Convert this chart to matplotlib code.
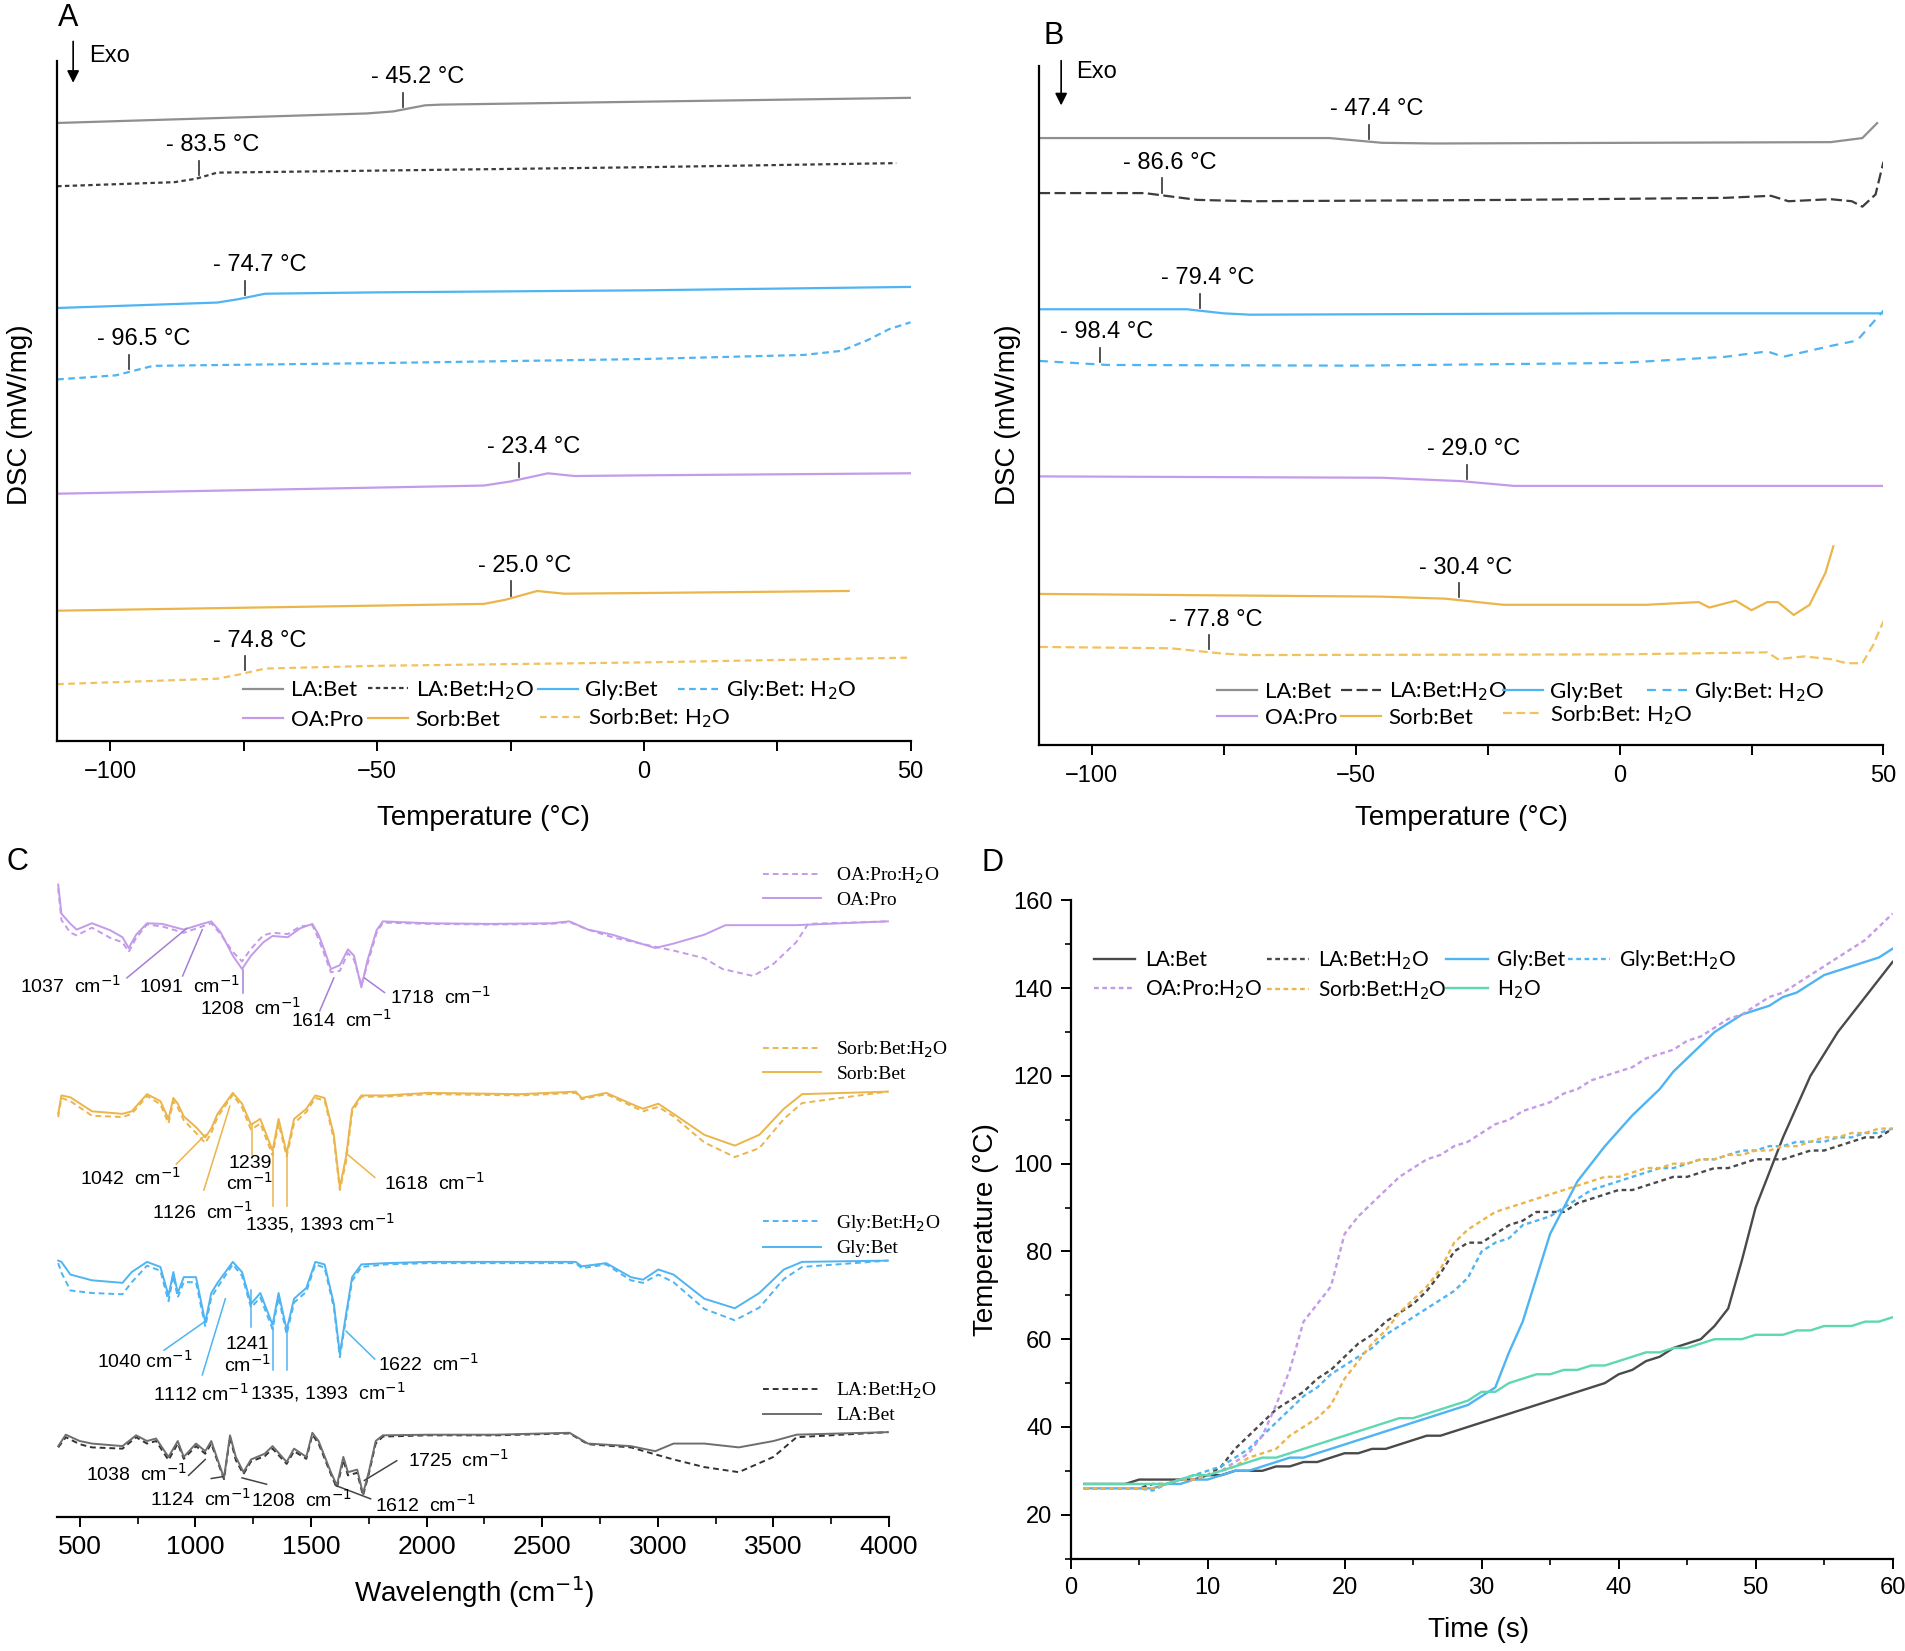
import matplotlib
matplotlib.use("Agg")
import matplotlib.pyplot as plt
import numpy as np
from matplotlib.legend import Legend
from matplotlib.ticker import MultipleLocator

plt.rcParams['font.family'] = ['Liberation Sans', 'DejaVu Sans']
plt.rcParams['mathtext.fontset'] = 'dejavusans'

# ---------------- colours
c_la = '#8f8f8f'
c_la_dark = '#3c3c3c'
c_gly = '#4fb4f2'
c_oa = '#c39be9'
c_sorb = '#ebb54b'
c_sorb_w = '#f1c25e'
c_water = '#5ed8b2'

# ---------------- panel A: DSC (first heating), arbitrary stacked units
A_names = ['LA:Bet', 'LA:Bet:H$_2$O', 'Gly:Bet', 'Gly:Bet: H$_2$O', 'OA:Pro', 'Sorb:Bet', 'Sorb:Bet: H$_2$O']
A_la_x = [-110, -52, -47, -41, -38, 50]
A_la_y = [90.9, 92.3, 92.6, 93.5, 93.6, 94.6]
A_lah_x = [-110, -88, -84, -80, -50, 0, 47.3]
A_lah_y = [81.6, 82.2, 82.7, 83.6, 83.9, 84.4, 85.0]
A_gly_x = [-110, -80, -76, -71, -50, 0, 50]
A_gly_y = [63.7, 64.5, 65.0, 65.8, 66.0, 66.3, 66.8]
A_glyh_x = [-110, -99, -96, -92, -50, 0, 30, 37, 42, 46, 50]
A_glyh_y = [53.2, 53.8, 54.4, 55.2, 55.6, 56.2, 56.8, 57.4, 59.0, 60.6, 61.6]
A_oa_x = [-110, -30, -25, -18, -13, 0, 50]
A_oa_y = [36.4, 37.6, 38.2, 39.4, 39.0, 39.1, 39.4]
A_sorb_x = [-110, -30, -26, -20, -15, 0, 38.4]
A_sorb_y = [19.2, 20.2, 20.8, 22.1, 21.7, 21.8, 22.1]
A_sorbh_x = [-110, -80, -76, -71, -50, 0, 50]
A_sorbh_y = [8.4, 9.2, 9.8, 10.7, 11.1, 11.6, 12.3]
A_tg = [-45.2, -83.5, -74.7, -96.5, -23.4, -25.0, -74.8]

# ---------------- panel B: DSC (second heating)
B_la_x = [-110, -55, -45, -35, 40, 46, 48.8]
B_la_y = [89.4, 89.4, 88.7, 88.6, 88.8, 89.4, 91.6]
B_lah_x = [-110, -90, -80, -70, -20, 20, 28.7, 32, 40, 44, 46, 48.5, 50]
B_lah_y = [81.3, 81.3, 80.3, 80.1, 80.3, 80.6, 80.9, 80.1, 80.4, 80.1, 79.3, 81.1, 85.9]
B_gly_x = [-110, -82, -75, -70, 0, 50]
B_gly_y = [64.2, 64.2, 63.6, 63.4, 63.6, 63.6]
B_glyh_x = [-110, -97, -50, 0, 20, 28, 31, 40, 45, 50]
B_glyh_y = [56.6, 56.0, 55.9, 56.3, 57.2, 58.0, 57.2, 58.8, 59.6, 64.0]
B_oa_x = [-110, -45, -30, -20, 50]
B_oa_y = [39.6, 39.4, 38.9, 38.2, 38.2]
B_sorb_x = [-110, -45, -33, -22, 5, 15, 17, 22, 25, 28, 30, 33, 36, 39, 40.5]
B_sorb_y = [22.3, 21.9, 21.6, 20.7, 20.7, 21.1, 20.3, 21.3, 19.9, 21.1, 21.1, 19.2, 20.7, 25.4, 29.3]
B_sorbh_x = [-110, -85, -75, -70, 0, 28, 30, 35, 40, 43, 46, 48, 50]
B_sorbh_y = [14.5, 14.3, 13.5, 13.3, 13.4, 13.7, 12.7, 13.1, 12.7, 12.1, 12.1, 14.7, 18.3]
B_tg = [-47.4, -86.6, -79.4, -98.4, -29.0, -30.4, -77.8]

# ---------------- panel C: FTIR
wn_oa = [407, 421, 460, 487, 553, 632, 685, 712, 744, 791, 857, 950, 1030, 1069, 1109, 1162, 1202,
         1241, 1294, 1334, 1400, 1453, 1506, 1533, 1559, 1586, 1625, 1660, 1686, 1718, 1744, 1784,
         1811, 2009, 2274, 2539, 2618, 2698, 2803, 2989, 3068, 3201, 3293, 3598, 3730, 3995]
oa_pro = [99.6, 95.0, 93.4, 92.5, 93.5, 92.4, 91.3, 89.6, 91.7, 93.5, 93.4, 92.5, 93.4, 93.8, 92.1,
          88.4, 86.3, 88.4, 90.5, 91.5, 91.3, 92.7, 93.4, 91.7, 89.2, 86.3, 86.9, 89.4, 88.4, 83.4,
          87.6, 92.4, 93.8, 93.5, 93.4, 93.5, 93.8, 92.5, 91.7, 89.6, 90.3, 91.7, 93.2, 93.2, 93.4, 93.8]
wn_oa_w = [407, 421, 460, 487, 553, 632, 685, 712, 744, 791, 857, 950, 1030, 1069, 1109, 1162, 1202,
           1241, 1294, 1334, 1400, 1453, 1506, 1533, 1559, 1586, 1625, 1660, 1686, 1718, 1744, 1784,
           1811, 2009, 2274, 2539, 2618, 2698, 2803, 2989, 3068, 3201, 3280, 3413, 3500, 3598, 3650, 3995]
oa_pro_w = [99.0, 94.0, 92.0, 91.6, 92.8, 91.2, 90.5, 89.0, 91.2, 93.3, 93.0, 92.0, 93.0, 93.5, 91.8,
            89.0, 87.5, 89.5, 91.6, 92.0, 91.8, 93.0, 93.2, 91.0, 88.5, 85.8, 86.0, 88.8, 87.8, 83.8,
            87.0, 92.0, 93.6, 93.4, 93.3, 93.4, 93.7, 92.5, 91.3, 89.8, 89.2, 88.0, 86.3, 85.2, 87.1,
            90.5, 93.4, 93.8]

wn_sg = [407, 421, 460, 553, 685, 725, 791, 849, 884, 905, 924, 950, 1003, 1043, 1069, 1096, 1162,
         1202, 1241, 1281, 1334, 1360, 1395, 1427, 1480, 1519, 1559, 1599, 1625, 1652, 1678, 1718,
         1824, 2009, 2406, 2645, 2671, 2777, 2883, 2936, 3002, 3068, 3201, 3333, 3439, 3545, 3624, 3995]
sorb_bet = [63.5, 66.4, 66.1, 63.9, 63.5, 63.9, 66.6, 65.5, 62.7, 66.0, 65.1, 63.1, 61.4, 59.8, 61.2,
            63.5, 66.8, 65.1, 61.8, 62.7, 57.7, 62.7, 57.3, 62.7, 64.3, 66.4, 66.0, 60.2, 51.9, 56.8,
            64.3, 66.4, 66.4, 66.8, 66.6, 67.0, 66.0, 66.8, 65.1, 64.3, 65.1, 63.5, 60.2, 58.5, 60.2,
            64.3, 66.6, 67.0]
sorb_bet_w = [63.0, 66.0, 65.5, 63.2, 63.0, 63.5, 66.3, 65.0, 62.0, 65.5, 64.5, 62.5, 60.5, 58.9, 60.5,
              63.0, 66.5, 64.5, 61.0, 62.0, 57.0, 62.0, 56.8, 62.0, 63.8, 66.0, 65.6, 59.5, 51.5, 56.0,
              63.8, 66.2, 66.2, 66.6, 66.4, 66.8, 65.8, 66.6, 64.8, 63.9, 64.6, 63.1, 59.0, 56.7, 58.1,
              62.7, 65.2, 67.0]
gly_bet = [40.4, 40.2, 38.2, 37.3, 36.9, 38.6, 40.2, 39.4, 34.9, 38.6, 35.3, 37.8, 37.8, 30.7, 35.3,
           36.9, 40.2, 38.6, 33.6, 35.3, 30.3, 35.3, 29.5, 34.4, 36.1, 40.2, 39.8, 33.6, 25.7, 32.0,
           37.8, 39.8, 40.0, 40.2, 40.2, 40.2, 39.5, 40.0, 37.8, 37.4, 39.0, 38.2, 34.4, 32.9, 35.3,
           39.0, 40.2, 40.4]
gly_bet_w = [40.0, 38.5, 35.7, 35.3, 35.1, 37.0, 39.6, 38.8, 34.0, 38.0, 34.6, 37.0, 37.0, 30.0, 34.6,
             36.2, 39.8, 38.0, 33.0, 34.6, 29.6, 34.6, 28.8, 33.8, 35.5, 39.8, 39.3, 33.0, 25.2, 31.4,
             37.2, 39.4, 39.8, 40.0, 40.0, 40.0, 39.2, 39.8, 37.3, 36.9, 38.2, 37.0, 32.8, 31.0, 33.0,
             37.5, 39.4, 40.4]

wn_la = [407, 440, 500, 553, 685, 744, 791, 830, 884, 924, 950, 1003, 1043, 1069, 1096, 1124, 1150,
         1175, 1208, 1241, 1300, 1334, 1395, 1427, 1480, 1506, 1533, 1586, 1612, 1640, 1660, 1700,
         1725, 1750, 1780, 1811, 2009, 2300, 2618, 2698, 2883, 2989, 3068, 3201, 3350, 3500, 3600, 3995]
la_bet = [11.2, 13.0, 12.0, 11.6, 11.2, 12.9, 12.0, 12.4, 9.5, 12.0, 9.5, 11.6, 10.4, 12.0, 9.1, 6.2,
          12.9, 9.5, 7.1, 9.1, 10.0, 11.2, 8.7, 10.8, 9.5, 13.3, 12.0, 7.1, 5.0, 9.5, 7.1, 7.5, 3.7,
          7.1, 12.0, 12.9, 13.0, 13.0, 13.3, 11.6, 11.2, 10.4, 11.6, 11.6, 11.0, 12.0, 13.0, 13.4]
la_bet_w = [11.0, 12.6, 11.5, 11.0, 10.8, 12.6, 11.6, 12.0, 9.0, 11.6, 9.2, 11.2, 10.0, 11.6, 8.8, 6.0,
            12.6, 9.0, 6.8, 8.8, 9.6, 10.8, 8.4, 10.4, 9.2, 13.0, 11.6, 6.8, 4.6, 9.0, 6.6, 7.0, 3.4,
            6.8, 11.6, 12.7, 12.9, 12.9, 13.2, 11.5, 11.0, 9.9, 9.1, 7.9, 7.1, 9.5, 12.6, 13.4]

# ---------------- panel D: heating curves
time_s = list(range(1, 61))
T_la = [27, 27, 27, 27, 28, 28, 28, 28, 28, 29, 29, 30, 30, 30, 31, 31, 32, 32, 33, 34,
        34, 35, 35, 36, 37, 38, 38, 39, 40, 41, 42, 43, 44, 45, 46, 47, 48, 49, 50, 52,
        53, 55, 56, 58, 59, 60, 63, 67, 78, 90, 98, 106, 113, 120, 125, 130, 134, 138, 142, 146]
T_la_w = [26, 26, 26, 26, 26, 27, 27, 28, 28, 29, 31, 35, 38, 41, 44, 46, 48, 51, 53, 56,
          59, 61, 64, 66, 68, 71, 75, 80, 82, 82, 84, 86, 87, 89, 89, 89, 91, 92, 93, 94,
          94, 95, 96, 97, 97, 98, 99, 99, 100, 101, 101, 101, 102, 103, 103, 104, 105, 106, 106, 108]
T_gly = [26, 26, 26, 26, 26, 26, 27, 27, 28, 28, 29, 30, 30, 31, 32, 33, 33, 34, 35, 36,
         37, 38, 39, 40, 41, 42, 43, 44, 45, 47, 49, 57, 64, 74, 84, 90, 96, 100, 104, 107.5,
         111, 114, 117, 121, 124, 127, 130, 132, 134, 135, 136, 138, 139, 141, 143, 144, 145, 146, 147, 149]
T_gly_w = [26, 26, 26, 26, 26, 25.5, 27, 28, 29, 30, 31, 33, 35, 38, 41, 44, 47, 49, 52, 54,
           56, 58, 61, 63, 65, 67, 69, 71, 74, 80, 82, 83, 86, 87, 88, 90, 92, 94, 95, 96,
           97, 98, 99, 99, 100, 101, 101, 102, 103, 103, 104, 104, 105, 105, 105, 106, 106, 107, 107, 108]
T_oa_w = [26, 26, 26, 26, 26, 26, 27, 28, 28, 29, 30, 32, 34, 38, 45, 53, 64, 68, 72, 84,
          88, 91, 94, 97, 99, 101, 102, 104, 105, 107, 109, 110, 112, 113, 114, 116, 117, 119, 120, 121,
          122, 124, 125, 126, 128, 129, 131, 133, 134, 136, 138, 139, 141, 143, 145, 147, 149, 151, 154, 157]
T_sorb_w = [26, 26, 26, 26, 26, 26, 27, 28, 28, 29, 30, 31, 33, 34, 35, 38, 40, 42, 45, 51,
            55, 59, 62, 66, 69, 72, 76, 82, 85, 87, 89, 90, 91, 92, 93, 94, 95, 96, 97, 97,
            98, 99, 99, 100, 100, 101, 101, 102, 102, 103, 103, 104, 104, 105, 106, 106, 107, 107, 108, 108]
T_water = [27, 27, 27, 27, 27, 27, 27, 28, 29, 29, 30, 31, 32, 33, 33, 34, 35, 36, 37, 38,
           39, 40, 41, 42, 42, 43, 44, 45, 46, 48, 48, 50, 51, 52, 52, 53, 53, 54, 54, 55,
           56, 57, 57, 58, 58, 59, 60, 60, 60, 61, 61, 61, 62, 62, 63, 63, 63, 64, 64, 65]

fig = plt.figure(figsize=(19.05, 16.51), dpi=100)

TICK = 17
ANNOT = 17
LEG = 16
sans_leg = ['Lato', 'DejaVu Sans']


def one_entry(ax, handles, labels, x, y, size, hl, pad, family=sans_leg, loc='center left'):
    # legends built as free artists so none is drawn twice
    leg = Legend(ax, handles, labels, loc=loc, bbox_to_anchor=(x, y), frameon=False,
                 prop={'family': family, 'size': size}, handlelength=hl, handletextpad=pad,
                 labelspacing=0.3, borderpad=0, borderaxespad=0)
    ax.add_artist(leg)


def dsc_axes(ax):
    for s in ['top', 'right']:
        ax.spines[s].set_visible(False)
    for s in ['left', 'bottom']:
        ax.spines[s].set_linewidth(1.6)
    ax.set_yticks([])
    ax.set_xlim(-110, 50)
    ax.set_ylim(0, 100)
    ax.xaxis.set_major_locator(MultipleLocator(50))
    ax.xaxis.set_minor_locator(MultipleLocator(25))
    ax.tick_params(axis='x', which='major', direction='out', length=7, width=1.4, labelsize=TICK, pad=7)
    ax.tick_params(axis='x', which='minor', direction='out', length=7, width=1.4)


def dsc_panel(ax, curves, tgs, styles, txt_dx, leg_pos):
    handles = []
    for (x, y), (col, ls) in zip(curves, styles):
        h, = ax.plot(x, y, color=col, ls=ls, lw=1.6)
        handles.append(h)
    for (x, y), tg in zip(curves, tgs):
        yc = np.interp(tg, x, y)
        ax.plot([tg, tg], [yc + 0.4, yc + 2.5], color='#333333', lw=1.2)
        ax.text(tg + txt_dx, yc + 4.8, '- %.1f \u00b0C' % abs(tg), ha='center', va='center',
                fontsize=ANNOT)
    for h, name, (lx, ly) in zip(handles, A_names, leg_pos):
        one_entry(ax, [h], [name], lx, ly, LEG, 1.8, 0.35)
    dsc_axes(ax)


# ---------------- A
axA = fig.add_axes([0.030, 0.551, 0.448, 0.412])
dsc_panel(axA,
          [(A_la_x, A_la_y), (A_lah_x, A_lah_y), (A_gly_x, A_gly_y), (A_glyh_x, A_glyh_y),
           (A_oa_x, A_oa_y), (A_sorb_x, A_sorb_y), (A_sorbh_x, A_sorbh_y)],
          A_tg,
          [(c_la, '-'), (c_la_dark, (0, (2, 1.5))), (c_gly, '-'), (c_gly, (0, (3, 2))),
           (c_oa, '-'), (c_sorb, '-'), (c_sorb_w, (0, (3, 2)))],
          2.7,
          [(0.2175, 0.075), (0.364, 0.075), (0.563, 0.075), (0.7275, 0.075),
           (0.2175, 0.032), (0.364, 0.032), (0.566, 0.034)])
axA.annotate('', xy=(-107, 96.4), xytext=(-107, 103.3),
             arrowprops=dict(arrowstyle='-|>', color='black', lw=1.2, mutation_scale=18),
             annotation_clip=False)
axA.text(-104, 100.8, 'Exo', fontsize=ANNOT, va='center', ha='left')

# ---------------- B
axB = fig.add_axes([0.5454, 0.5485, 0.4433, 0.4115])
dsc_panel(axB,
          [(B_la_x, B_la_y), (B_lah_x, B_lah_y), (B_gly_x, B_gly_y), (B_glyh_x, B_glyh_y),
           (B_oa_x, B_oa_y), (B_sorb_x, B_sorb_y), (B_sorbh_x, B_sorbh_y)],
          B_tg,
          [(c_la, '-'), (c_la_dark, (0, (5, 2))), (c_gly, '-'), (c_gly, (0, (4, 3))),
           (c_oa, '-'), (c_sorb, '-'), (c_sorb_w, (0, (4, 2)))],
          1.3,
          [(0.2113, 0.079), (0.3575, 0.079), (0.549, 0.079), (0.7194, 0.079),
           (0.2113, 0.041), (0.3575, 0.041), (0.549, 0.045)])
axB.annotate('', xy=(-105.8, 93.8), xytext=(-105.8, 101.2),
             arrowprops=dict(arrowstyle='-|>', color='black', lw=1.2, mutation_scale=18),
             annotation_clip=False)
axB.text(-103, 99.1, 'Exo', fontsize=ANNOT, va='center', ha='left')

# ---------------- C
axC = fig.add_axes([0.0297, 0.081, 0.437, 0.3848])
pairs = [
    (wn_oa_w, oa_pro_w, wn_oa, oa_pro, c_oa, c_oa, 'OA:Pro:H$_2$O', 'OA:Pro', 1.026),
    (wn_sg, sorb_bet_w, wn_sg, sorb_bet, c_sorb, c_sorb, 'Sorb:Bet:H$_2$O', 'Sorb:Bet', 0.752),
    (wn_sg, gly_bet_w, wn_sg, gly_bet, c_gly, c_gly, 'Gly:Bet:H$_2$O', 'Gly:Bet', 0.479),
    (wn_la, la_bet_w, wn_la, la_bet, '#333333', '#6e6e6e', 'LA:Bet:H$_2$O', 'LA:Bet', 0.215),
]
for xw, yw, xs, ys, cw, cs, lw_name, ls_name, ly in pairs:
    hw, = axC.plot(xw, yw, color=cw, ls=(0, (3, 2)), lw=1.4)
    hs, = axC.plot(xs, ys, color=cs, ls='-', lw=1.4)
    one_entry(axC, [hw, hs], [lw_name, ls_name], 0.848, ly, 14, 3.0, 0.8,
              family=['Liberation Serif', 'DejaVu Serif'], loc='upper left')

cm = 'cm$^{-1}$'
peak_notes = [
    ('1037  ' + cm, 460, 83.6, [[(704, 84.9), (963, 92.7)]], '#a57fd6'),
    ('1091  ' + cm, 977, 83.6, [[(945, 85.2), (1030, 92.5)]], '#a57fd6'),
    ('1208  ' + cm, 1241, 80.2, [[(1207, 82.6), (1207, 86.1)]], '#a57fd6'),
    ('1614  ' + cm, 1633, 78.3, [[(1538, 79.7), (1599, 84.9)]], '#a57fd6'),
    ('1718  ' + cm, 2062, 81.9, [[(1818, 82.6), (1731, 84.9)]], '#a57fd6'),
    ('1042  ' + cm, 720, 53.5, [[(918, 55.6), (1043, 60.2)]], c_sorb),
    ('1126  ' + cm, 1030, 48.1, [[(1037, 51.5), (1149, 64.7)]], c_sorb),
    ('1239\n' + cm, 1236, 53.9, [[(1244, 57.0), (1244, 61.8)]], c_sorb),
    ('1335, 1393 ' + cm, 1538, 46.3, [[(1334, 49.0), (1334, 57.7)], [(1395, 49.0), (1395, 57.3)]], c_sorb),
    ('1618  ' + cm, 2036, 52.7, [[(1776, 53.5), (1652, 57.3)]], c_sorb),
    ('1040 ' + cm, 783, 24.6, [[(865, 26.3), (1037, 30.7)]], c_gly),
    ('1112 ' + cm, 1024, 19.5, [[(1030, 22.4), (1130, 34.4)]], c_gly),
    ('1241\n' + cm, 1225, 25.4, [[(1241, 29.9), (1241, 35.7)]], c_gly),
    ('1335, 1393  ' + cm, 1572, 19.7, [[(1334, 23.2), (1334, 29.9)], [(1395, 23.2), (1395, 29.5)]], c_gly),
    ('1622  ' + cm, 2009, 24.1, [[(1776, 24.9), (1652, 29.3)]], c_gly),
    ('1038  ' + cm, 744, 6.8, [[(971, 6.6), (1043, 9.1)]], '#444444'),
    ('1124  ' + cm, 1024, 2.9, [[(1069, 6.1), (1120, 6.4)]], '#444444'),
    ('1208  ' + cm, 1461, 2.7, [[(1202, 6.2), (1308, 5.2)]], '#444444'),
    ('1612  ' + cm, 1996, 1.9, [[(1758, 2.9), (1607, 5.0)]], '#444444'),
    ('1725  ' + cm, 2136, 9.1, [[(1871, 8.9), (1731, 5.8)]], '#444444'),
]
for label, tx, ty, segs, col in peak_notes:
    for (x0, y0), (x1, y1) in segs:
        axC.plot([x0, x1], [y0, y1], color=col, lw=1.1)
    axC.text(tx, ty, label, ha='center', va='center', fontsize=14, linespacing=1.0)

axC.set_xlim(400, 4000)
axC.set_ylim(0, 100)
axC.set_yticks([])
for s in ['top', 'right', 'left']:
    axC.spines[s].set_visible(False)
axC.spines['bottom'].set_linewidth(1.6)
axC.xaxis.set_major_locator(MultipleLocator(500))
axC.xaxis.set_minor_locator(MultipleLocator(250))
axC.tick_params(axis='x', which='major', direction='out', length=7, width=1.4, labelsize=19, pad=6)
axC.tick_params(axis='x', which='minor', direction='out', length=5, width=1.2)

# ---------------- D
axD = fig.add_axes([0.562, 0.056, 0.4315, 0.3986])
d_series = [
    ('LA:Bet', T_la, '#4a4a4a', '-'),
    ('LA:Bet:H$_2$O', T_la_w, '#4a4a4a', (0, (2, 1.5))),
    ('Gly:Bet', T_gly, c_gly, '-'),
    ('Gly:Bet:H$_2$O', T_gly_w, c_gly, (0, (2, 1.5))),
    ('OA:Pro:H$_2$O', T_oa_w, c_oa, (0, (2, 1.5))),
    ('Sorb:Bet:H$_2$O', T_sorb_w, c_sorb, (0, (2, 1.5))),
    ('H$_2$O', T_water, c_water, '-'),
]
d_leg_pos = [(0.028, 0.909), (0.239, 0.909), (0.457, 0.909), (0.605, 0.909),
             (0.028, 0.864), (0.239, 0.864), (0.457, 0.864)]
for (name, vals, col, ls), (lx, ly) in zip(d_series, d_leg_pos):
    h, = axD.plot(time_s, vals, color=col, ls=ls, lw=1.7)
    one_entry(axD, [h], [name], lx, ly, 15, 2.0, 0.45)
axD.set_xlim(0, 60)
axD.set_ylim(10, 160)
for s in ['top', 'right']:
    axD.spines[s].set_visible(False)
for s in ['left', 'bottom']:
    axD.spines[s].set_linewidth(1.6)
axD.xaxis.set_major_locator(MultipleLocator(10))
axD.xaxis.set_minor_locator(MultipleLocator(5))
axD.yaxis.set_minor_locator(MultipleLocator(10))
axD.set_yticks([20, 40, 60, 80, 100, 120, 140, 160])
axD.tick_params(which='major', direction='out', length=7, width=1.4, labelsize=TICK, pad=6)
axD.tick_params(which='minor', direction='out', length=4, width=1.2)

# ---------------- labels
fig.text(0.2537, 0.5045, 'Temperature (\u00b0C)', ha='center', va='center', fontsize=20)
fig.text(0.767, 0.5045, 'Temperature (\u00b0C)', ha='center', va='center', fontsize=20)
fig.text(0.0105, 0.749, 'DSC (mW/mg)', rotation=90, ha='center', va='center', fontsize=20)
fig.text(0.529, 0.749, 'DSC (mW/mg)', rotation=90, ha='center', va='center', fontsize=20)
fig.text(0.249, 0.0355, 'Wavelength (cm$^{-1}$)', ha='center', va='center', fontsize=20)
fig.text(0.776, 0.013, 'Time (s)', ha='center', va='center', fontsize=20)
fig.text(0.5177, 0.255, 'Temperature (\u00b0C)', rotation=90, ha='center', va='center', fontsize=20)

for letter, x, y in [('A', 0.036, 0.989), ('B', 0.553, 0.978), ('C', 0.009, 0.478), ('D', 0.521, 0.477)]:
    fig.text(x, y, letter, ha='center', va='center', fontsize=22)

fig.savefig('out.png', dpi=100)
